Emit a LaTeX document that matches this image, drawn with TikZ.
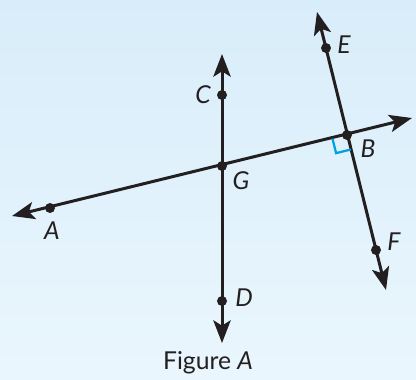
\documentclass[tikz,border=0pt]{standalone}
\usepackage{fontspec}
\setmainfont{Lato}
\usetikzlibrary{arrows.meta,calc}
\definecolor{ink}{RGB}{35,31,32}
\definecolor{sky}{RGB}{0,160,228}
\definecolor{bgtop}{RGB}{216,237,250}
\definecolor{bgbot}{RGB}{234,246,253}

\begin{document}
\begin{tikzpicture}[x=0.75pt,y=-0.75pt,
  >={Stealth[length=17pt,width=13pt,inset=4pt]},
  every path/.style={line width=2.25pt,draw=ink},
  pt/.style={circle,fill=ink,draw=none,inner sep=0pt,minimum size=7.5pt},
  lbl/.style={font=\fontsize{18.5}{22}\selectfont\itshape,text=ink,inner sep=0pt}]

% background
\shade[top color=bgtop,bottom color=bgbot,draw=none] (0,0) rectangle (416,379);

% ends of the lines
\coordinate (al) at (12,216);
\coordinate (ar) at (412,118);
\coordinate (cu) at (222,54);
\coordinate (dd) at (222,343);
\coordinate (eu) at (317,12);
\coordinate (fd) at (386,290);

\draw[<->] (al)--(ar);
\draw[<->] (cu)--(dd);
\draw[<->] (eu)--(fd);

% points
\node[pt] (a) at (50,208) {};
\node[pt] (g) at (222,166) {};
\node[pt] (b) at (347,135) {};
\node[pt] (c) at (222,95) {};
\node[pt] (d) at (222,301) {};
\node[pt] (e) at (326,48) {};
\node[pt] (f) at (376,250) {};

% right angle at B
\coordinate (ra1) at ($(b)!11.25pt!(a)$);
\coordinate (ra3) at ($(b)!11.25pt!(f)$);
\coordinate (ra2) at ($(ra1)+(ra3)-(b)$);
\draw[sky,line width=1.7pt] (ra1)--(ra2)--(ra3);

% labels
\node[lbl] (la) at (52,231) {A};
\node[lbl] (lg) at (241,181) {G};
\node[lbl] (lb) at (368,149) {B};
\node[lbl] (lc) at (203,95) {C};
\node[lbl] (ld) at (244,298) {D};
\node[lbl] (le) at (344,45) {E};
\node[lbl] (lf) at (394,242) {F};

\node[font=\fontsize{18.5}{22}\selectfont,text=ink,inner sep=0pt] (cap) at (208,363) {Figure \textit{A}};

\end{tikzpicture}
\end{document}
